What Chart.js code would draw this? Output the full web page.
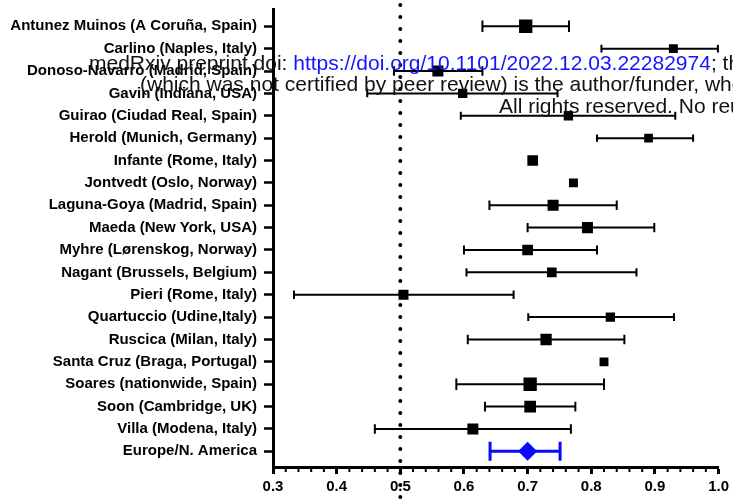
<!DOCTYPE html>
<html>
<head>
<meta charset="utf-8">
<title>Forest plot</title>
<script src="https://cdn.jsdelivr.net/npm/chart.js"></script>
<style>
  html, body { margin: 0; padding: 0; background: #fff; }
  #wrap { width: 733px; height: 499px; position: relative; }
</style>
</head>
<body>
<div id="wrap"><canvas id="forest"></canvas></div>
<script>
// Studies (top to bottom)
const studies = [
    'Antunez Muinos (A Coruña, Spain)',
    'Carlino (Naples, Italy)',
    'Donoso-Navarro (Madrid, Spain)',
    'Gavin (Indiana, USA)',
    'Guirao (Ciudad Real, Spain)',
    'Herold (Munich, Germany)',
    'Infante (Rome, Italy)',
    'Jontvedt (Oslo, Norway)',
    'Laguna-Goya (Madrid, Spain)',
    'Maeda (New York, USA)',
    'Myhre (Lørenskog, Norway)',
    'Nagant (Brussels, Belgium)',
    'Pieri (Rome, Italy)',
    'Quartuccio (Udine,Italy)',
    'Ruscica (Milan, Italy)',
    'Santa Cruz (Braga, Portugal)',
    'Soares (nationwide, Spain)',
    'Soon (Cambridge, UK)',
    'Villa (Modena, Italy)'
];
const estimates = [0.697, 0.929, 0.559, 0.598, 0.764, 0.890, 0.708, 0.772, 0.740, 0.794, 0.700, 0.738, 0.505, 0.830, 0.729, 0.820, 0.704, 0.704, 0.614];
const lower     = [0.629, 0.816, 0.490, 0.448, 0.595, 0.809, null,  null,  0.640, 0.700, 0.600, 0.604, 0.333, 0.701, 0.606, null,  0.588, 0.633, 0.460];
const upper     = [0.765, 0.999, 0.629, 0.747, 0.932, 0.960, null,  null,  0.840, 0.899, 0.809, 0.871, 0.678, 0.930, 0.852, null,  0.820, 0.775, 0.768];
// relative study weights (%), shown as square size
const weights   = [8.2, 3.7, 5.6, 4.0, 4.0, 3.5, 5.3, 3.7, 5.6, 5.6, 5.3, 4.3, 4.6, 4.0, 5.9, 3.7, 8.2, 6.3, 5.6];

// Pooled estimate
const pooledLabel = 'Europe/N. America';
const pooled = [0.700];
const pooledLower = [0.641];
const pooledUpper = [0.751];

// x axis
const xMin = 0.3;
const xMax = 1.0;
const xStep = 0.1;
const xMinorStep = 0.02;
const refLine = 0.5;

const allLabels = studies.concat([pooledLabel]);
const FONT = 'Arial, "Liberation Sans", Helvetica, sans-serif';

// square side in px from weight
function sideFor(w) {
    return 4.65 * Math.sqrt(w);
}

// Dotted reference line at 0.5, full canvas height
const refLinePlugin = {
    id: 'refLine',
    beforeDatasetsDraw(chart) {
        const ctx = chart.ctx;
        const x = chart.scales.x.getPixelForValue(refLine);
        ctx.save();
        ctx.strokeStyle = '#000';
        ctx.lineWidth = 4;
        ctx.lineCap = 'round';
        ctx.setLineDash([0, 12]);
        ctx.beginPath();
        ctx.moveTo(x, 5);
        ctx.lineTo(x, chart.height);
        ctx.stroke();
        ctx.restore();
    }
};

// Error bars with caps
const errorBarPlugin = {
    id: 'errorBars',
    beforeDatasetsDraw(chart) {
        const ctx = chart.ctx;
        const xs = chart.scales.x;
        const ys = chart.scales.y;
        chart.data.datasets.forEach(ds => {
            ds.lo.forEach((lo, i) => {
                const hi = ds.hi[i];
                if (lo == null || hi == null) return;
                const y = ys.getPixelForValue(ds.data[i].y);
                const x1 = xs.getPixelForValue(lo);
                const x2 = xs.getPixelForValue(hi);
                const cap = ds.capHeight[i] / 2;
                ctx.save();
                ctx.strokeStyle = ds.barColor;
                ctx.lineWidth = ds.barWidth;
                ctx.beginPath();
                ctx.moveTo(x1, y);
                ctx.lineTo(x2, y);
                ctx.moveTo(x1, y - cap);
                ctx.lineTo(x1, y + cap);
                ctx.moveTo(x2, y - cap);
                ctx.lineTo(x2, y + cap);
                ctx.stroke();
                ctx.restore();
            });
        });
    }
};

// Minor ticks on the x axis
const minorTickPlugin = {
    id: 'minorTicks',
    afterDraw(chart) {
        const ctx = chart.ctx;
        const xs = chart.scales.x;
        const y0 = chart.chartArea.bottom;
        const n0 = Math.round(xMin / xMinorStep);
        const n1 = Math.round(xMax / xMinorStep);
        const every = Math.round(xStep / xMinorStep);
        ctx.save();
        ctx.strokeStyle = '#000';
        ctx.lineWidth = 2;
        ctx.beginPath();
        for (let n = n0; n <= n1; n++) {
            if (n % every === 0) continue;
            const x = xs.getPixelForValue(n * xMinorStep);
            ctx.moveTo(x, y0);
            ctx.lineTo(x, y0 + 5);
        }
        ctx.stroke();
        ctx.restore();
    }
};

// medRxiv stamp overlay
const stampPlugin = {
    id: 'stamp',
    afterDraw(chart) {
        const ctx = chart.ctx;
        ctx.save();
        ctx.font = '21px ' + FONT;
        ctx.textBaseline = 'alphabetic';
        ctx.textAlign = 'left';
        const parts = [
            ['medRxiv preprint doi: ', '#111'],
            ['https://doi.org/10.1101/2022.12.03.22282974', '#1414ff'],
            ['; this version posted December 5, 2022. The copyright holder for this preprint', '#111']
        ];
        let x = 89;
        parts.forEach(p => {
            ctx.fillStyle = p[1];
            ctx.fillText(p[0], x, 70);
            x += ctx.measureText(p[0]).width;
        });
        ctx.fillStyle = '#111';
        ctx.fillText('(which was not certified by peer review) is the author/funder, who has granted medRxiv a license to display the preprint in perpetuity.', 140, 91);
        ctx.fillText('All rights reserved. No reuse allowed without permission.', 499, 113);
        ctx.restore();
    }
};

const studySides = weights.map(sideFor);

const chart = new Chart(document.getElementById('forest'), {
    type: 'scatter',
    data: {
        datasets: [
            {
                label: 'Studies',
                data: estimates.map((v, i) => ({ x: v, y: i })),
                lo: lower,
                hi: upper,
                capHeight: studySides.map(s => s * 0.85),
                barColor: '#000',
                barWidth: 2,
                pointStyle: 'rect',
                pointRadius: studySides.map(s => s / Math.SQRT2),
                backgroundColor: '#000',
                borderColor: '#000',
                borderWidth: 0
            },
            {
                label: 'Pooled',
                data: pooled.map(v => ({ x: v, y: studies.length })),
                lo: pooledLower,
                hi: pooledUpper,
                capHeight: [19],
                barColor: '#0a0aff',
                barWidth: 3,
                pointStyle: 'rectRot',
                pointRadius: 9.5,
                backgroundColor: '#0a0aff',
                borderColor: '#0a0aff',
                borderWidth: 0
            }
        ]
    },
    options: {
        responsive: true,
        maintainAspectRatio: false,
        animation: false,
        events: [],
        layout: { padding: { top: 7, bottom: 0, left: 0, right: 0 } },
        plugins: {
            legend: { display: false },
            tooltip: { enabled: false }
        },
        scales: {
            x: {
                type: 'linear',
                min: xMin,
                max: xMax,
                afterFit: s => { s.height = 32; },
                border: { display: true, color: '#000', width: 3 },
                grid: { drawOnChartArea: false, tickLength: 7, tickWidth: 3, tickColor: '#000' },
                ticks: {
                    stepSize: xStep,
                    color: '#000',
                    padding: 4,
                    font: { family: FONT, size: 15, weight: 'bold' },
                    callback: v => v.toFixed(1)
                }
            },
            y: {
                type: 'linear',
                reverse: true,
                min: -0.75,
                max: allLabels.length - 0.3,
                afterBuildTicks: s => { s.ticks = allLabels.map((_, i) => ({ value: i })); },
                afterFit: s => {
                    s.width = 273;
                    s.paddingTop = 0;
                    s.paddingBottom = 0;
                },
                border: { display: true, color: '#000', width: 3 },
                grid: { drawOnChartArea: false, tickLength: 9, tickWidth: 2.5, tickColor: '#000' },
                ticks: {
                    autoSkip: false,
                    color: '#000',
                    padding: 7,
                    font: { family: FONT, size: 15, weight: 'bold' },
                    callback: v => allLabels[v]
                }
            }
        }
    },
    plugins: [refLinePlugin, errorBarPlugin, minorTickPlugin, stampPlugin]
});
</script>
</body>
</html>
